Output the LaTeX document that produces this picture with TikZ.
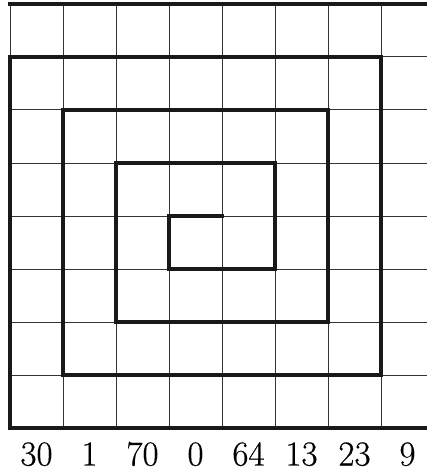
\documentclass[tikz,border=0pt]{standalone}
\usepackage{fontspec}
\setmainfont{Latin Modern Roman}[FakeBold=0.5]
\begin{document}
\begin{tikzpicture}[x=1pt,y=-1pt,
  gridline/.style={draw=black!80,line width=1pt},
  heavy/.style={draw=black!90,line width=4pt,line join=miter,line cap=rect},
  lab/.style={font=\fontsize{35}{35}\selectfont,anchor=base,inner sep=0pt}]
\useasboundingbox (0,0) rectangle (427,473);
\begin{scope}
\clip (0,0) rectangle (427,473);
\foreach \i in {0,...,8}{
  \draw[gridline] (10+53*\i,4) -- (10+53*\i,428);
  \draw[gridline] (10,4+53*\i) -- (440,4+53*\i);
}
\draw[heavy] (10,4) -- (440,4);
\draw[heavy] (440,428) -- (10,428) -- (10,57) -- (381,57) -- (381,375) -- (63,375)
  -- (63,110) -- (328,110) -- (328,322) -- (116,322) -- (116,163) -- (275,163)
  -- (275,269) -- (169,269) -- (169,216) -- (222,216);
\end{scope}
\foreach \t [count=\k from 0] in {30,1,70,0,64,13,23,9}{
  \node[lab] (n\k) at (36.5+53*\k,465.5) {\t};
}
\end{tikzpicture}
\end{document}
